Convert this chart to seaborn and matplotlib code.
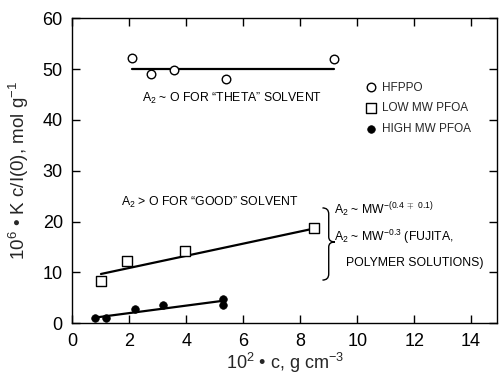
import matplotlib
matplotlib.use("Agg")
import matplotlib.pyplot as plt
import seaborn as sns
from matplotlib.path import Path
from matplotlib.patches import PathPatch

# ---- data ----
hfppo_x = [2.1, 2.75, 3.55, 5.4, 9.2]
hfppo_y = [52.2, 49.0, 49.9, 48.1, 52.0]
low_x = [0.99, 1.92, 3.94, 8.5]
low_y = [8.4, 12.3, 14.3, 18.7]
high_x = [0.78, 1.16, 2.19, 3.18, 5.27, 5.27]
high_y = [1.0, 1.0, 2.8, 3.5, 4.7, 3.5]
# fitted lines (end points)
hfppo_fit_x = [2.1, 9.2]
hfppo_fit_y = [50.0, 50.0]
low_fit_x = [1.0, 8.45]
low_fit_y = [9.7, 18.6]
high_fit_x = [0.9, 5.25]
high_fit_y = [1.2, 4.4]

x_ticks = [0, 2, 4, 6, 8, 10, 12, 14]
y_ticks = [0, 10, 20, 30, 40, 50, 60]
series_labels = ["HFPPO", "LOW MW PFOA", "HIGH MW PFOA"]

sns.set_style("ticks")
plt.rcParams["font.family"] = ["Liberation Sans", "DejaVu Sans"]
plt.rcParams["mathtext.fontset"] = "custom"
plt.rcParams["mathtext.rm"] = "Liberation Sans"
plt.rcParams["mathtext.it"] = "Liberation Sans"
plt.rcParams["mathtext.bf"] = "Liberation Sans"
plt.rcParams["mathtext.sf"] = "Liberation Sans"

fig = plt.figure(figsize=(5.01, 3.79), dpi=100)
ax = fig.add_axes([0.1447, 0.147, 0.8467, 0.8047])

# fit lines
for fx, fy in [(hfppo_fit_x, hfppo_fit_y), (low_fit_x, low_fit_y), (high_fit_x, high_fit_y)]:
    sns.lineplot(x=fx, y=fy, ax=ax, color="black", lw=1.6, sort=False, zorder=2)

sns.scatterplot(x=hfppo_x, y=hfppo_y, ax=ax, marker="o", s=38, facecolor="white",
                edgecolor="black", linewidth=1.0, zorder=3, label=series_labels[0])
sns.scatterplot(x=low_x, y=low_y, ax=ax, marker="s", s=48, facecolor="white",
                edgecolor="black", linewidth=1.0, zorder=3, label=series_labels[1])
sns.scatterplot(x=high_x, y=high_y, ax=ax, marker="o", s=30, color="black",
                edgecolor="black", linewidth=0.5, zorder=3, label=series_labels[2])

ax.set_xlim(0, 14.9)
ax.set_ylim(0, 60)
ax.set_xticks(x_ticks)
ax.set_yticks(y_ticks)
ax.tick_params(direction="in", length=6, width=1, top=True, right=True,
               labelsize=13, colors="black")
ax.tick_params(axis="x", pad=7)
ax.tick_params(axis="y", pad=7)
for s in ax.spines.values():
    s.set_visible(True)
    s.set_linewidth(1.0)
    s.set_color("black")

ax.set_xlabel("10$^2$ • c, g cm$^{-3}$", fontsize=13, labelpad=1)
ax.set_ylabel("10$^6$ • K c/I(0), mol g$^{-1}$", fontsize=13.5, labelpad=8)

leg = ax.legend(frameon=False, loc="upper left", bbox_to_anchor=(0.675, 0.808),
                fontsize=8.5, handletextpad=0.35, labelspacing=0.75,
                borderaxespad=0, handlelength=1.2, markerscale=1.0)

ann = dict(fontsize=8.8, color="black")
ax.text(5.6, 44.3, "A$_2$ ~ O FOR “THETA” SOLVENT", ha="center", va="center", **ann)
ax.text(4.83, 23.7, "A$_2$ > O FOR “GOOD” SOLVENT", ha="center", va="center", **ann)
ax.text(9.2, 22.4, "A$_2$ ~ MW$^{-(0.4\\ \\mp\\ 0.1)}$", ha="left", va="center", **ann)
ax.text(9.2, 17.0, "A$_2$ ~ MW$^{-0.3}$ (FUJITA,", ha="left", va="center", **ann)
ax.text(9.6, 11.9, "POLYMER SOLUTIONS)", ha="left", va="center", **ann)

# curly brace
bx, by0, by1, bym = 8.78, 22.7, 8.5, 16.0
w = 0.22
verts = [
    (bx, by0),
    (bx + w, by0), (bx + w, by0 - 1.2),
    (bx + w, bym + 1.0),
    (bx + w, bym), (bx + 2 * w, bym),
    (bx + w, bym), (bx + w, bym - 1.0),
    (bx + w, by1 + 1.2),
    (bx + w, by1), (bx, by1),
]
codes = [Path.MOVETO,
         Path.CURVE3, Path.CURVE3,
         Path.LINETO,
         Path.CURVE3, Path.CURVE3,
         Path.CURVE3, Path.CURVE3,
         Path.LINETO,
         Path.CURVE3, Path.CURVE3]
ax.add_patch(PathPatch(Path(verts, codes), fill=False, lw=1.0, color="black", clip_on=False))

fig.savefig("out.png", dpi=100)
